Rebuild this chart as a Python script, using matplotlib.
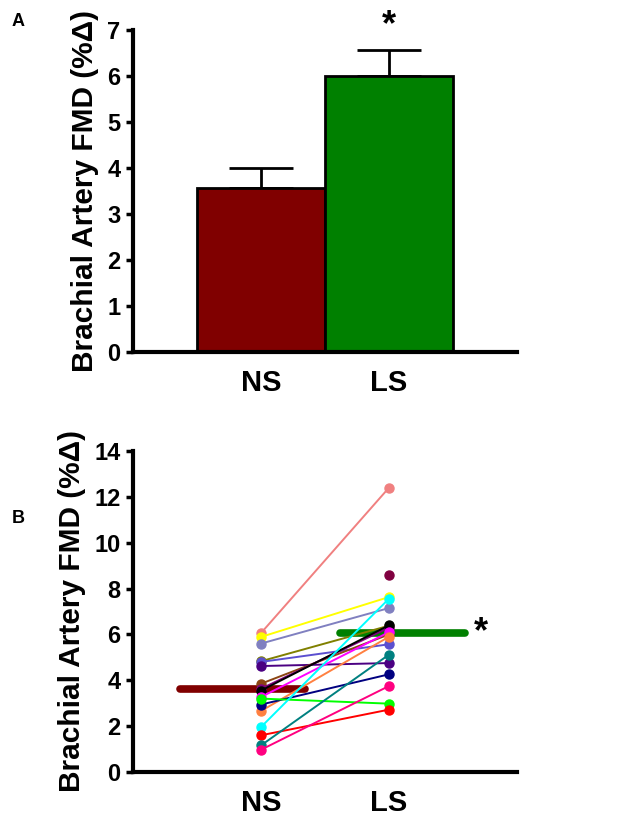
import matplotlib.pyplot as plt
import numpy as np

plt.rcParams['font.family'] = ['Liberation Sans', 'DejaVu Sans']
plt.rcParams['font.weight'] = 'bold'

# Panel A: group means with SEM (upper error only)
groups = ["NS", "LS"]
bar_means = [3.58, 6.01]
bar_errs = [0.42, 0.56]
bar_colors = ["#800000", "#008000"]

# Panel B: individual subjects (NS value, LS value)
ns_vals = [6.06, 5.89, 5.60, 4.83, 4.80, 4.62, 3.85, 3.63, 3.55, 3.27,
           2.66, 2.94, 3.20, 1.96, 1.60, 1.16, 0.97, np.nan]
ls_vals = [12.40, 7.63, 7.15, 6.38, 5.57, 4.75, 6.00, 6.30, 6.40, 6.10,
           5.90, 4.26, 2.98, 7.56, 2.72, 5.12, 3.75, 8.58]
subj_colors = ["#F08080", "#FFFF00", "#8080C0", "#808000", "#5B4FD0", "#4B0082",
               "#8B4513", "#800080", "#000000", "#FF00FF", "#FF8040", "#000080",
               "#00FF00", "#00FFFF", "#FF0000", "#008080", "#FF0080", "#800040"]
group_means = [3.60, 6.07]

fig = plt.figure(figsize=(6.29, 8.19), dpi=100)
axA = fig.add_axes([0.2115, 0.570, 0.6105, 0.393])
axB = fig.add_axes([0.2115, 0.0574, 0.6105, 0.392])

x = np.arange(len(groups))

# ---- Panel A
axA.bar(x, bar_means, width=1.0, color=bar_colors, edgecolor='black', linewidth=2, zorder=2)
axA.errorbar(x, bar_means, yerr=[[0, 0], bar_errs], fmt='none', ecolor='black',
             elinewidth=2, capsize=23, capthick=2, zorder=1)
axA.text(x[1], bar_means[1] + bar_errs[1] + 0.15, '*', ha='center', va='bottom',
         fontsize=26, fontweight='bold')
axA.set_ylim(0, 7)
axA.set_yticks(range(0, 8))

# ---- Panel B
axB.plot([-0.63, 0.34], [group_means[0]] * 2, color=bar_colors[0], lw=5.5,
         solid_capstyle='round', zorder=1)
axB.plot([0.62, 1.59], [group_means[1]] * 2, color=bar_colors[1], lw=5.5,
         solid_capstyle='round', zorder=1)
for n, l, c in zip(ns_vals, ls_vals, subj_colors):
    axB.plot(x, [n, l], '-o', color=c, lw=1.4, markersize=6.5, zorder=3)
axB.text(1.72, group_means[1], '*', ha='center', va='center', fontsize=26, fontweight='bold')
axB.set_ylim(0, 14)
axB.set_yticks(range(0, 15, 2))

for ax in (axA, axB):
    ax.set_xlim(-1, 2)
    ax.set_xticks(x)
    ax.set_xticklabels(groups, fontsize=21, fontweight='bold')
    ax.tick_params(axis='x', length=0, pad=12)
    ax.tick_params(axis='y', length=5, width=2.5, labelsize=17, pad=4)
    for s in ('top', 'right'):
        ax.spines[s].set_visible(False)
    for s in ('left', 'bottom'):
        ax.spines[s].set_linewidth(3)
    ax.set_ylabel('Brachial Artery FMD (%Δ)', fontsize=21.5, fontweight='bold', labelpad=6)

fig.text(0.018, 0.968, 'A', fontsize=13, fontweight='bold')
fig.text(0.018, 0.362, 'B', fontsize=13, fontweight='bold')

fig.savefig('out.png', dpi=100)
